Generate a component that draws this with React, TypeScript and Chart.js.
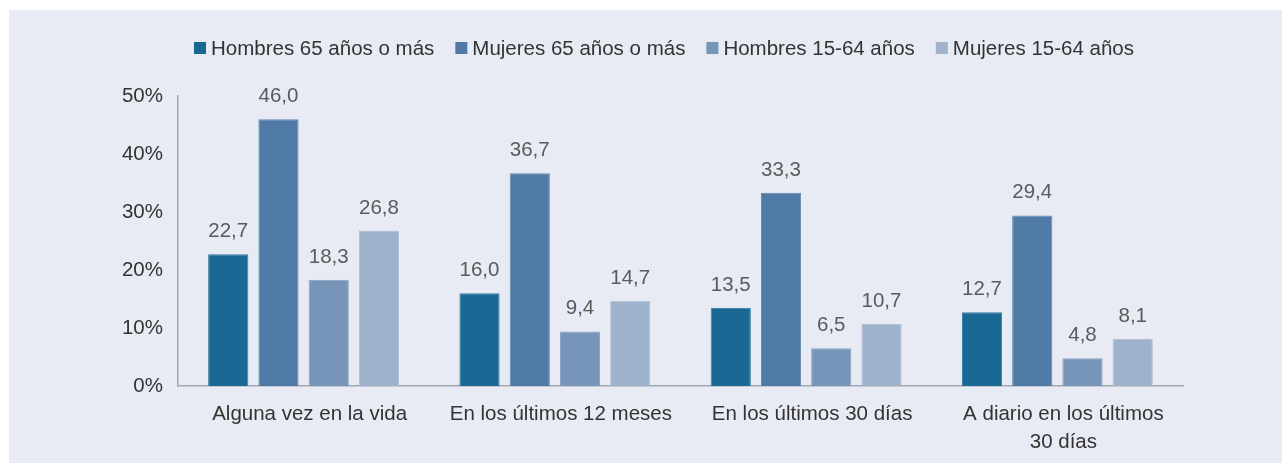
import React, { useEffect, useRef } from "react";
import { Chart, registerables } from "chart.js";

Chart.register(...registerables);

const CATEGORIES: (string | string[])[] = [
  "Alguna vez en la vida",
  "En los últimos 12 meses",
  "En los últimos 30 días",
  ["A diario en los últimos", "30 días"],
];
const SERIES_LABELS = [
  "Hombres 65 años o más",
  "Mujeres 65 años o más",
  "Hombres 15-64 años",
  "Mujeres 15-64 años",
];
const HOMBRES_65 = [22.7, 16.0, 13.5, 12.7];
const MUJERES_65 = [46.0, 36.7, 33.3, 29.4];
const HOMBRES_15_64 = [18.3, 9.4, 6.5, 4.8];
const MUJERES_15_64 = [26.8, 14.7, 10.7, 8.1];
const Y_TICKS = [0, 10, 20, 30, 40, 50];

const COLORS = ["#1A6894", "#4E7AA5", "#7695B8", "#9FB2CC"];
const BORDERS = ["#3479a0", "#6188b0", "#87a2c2", "#afbfd5"];
const FONT = '"Liberation Sans", Arial, sans-serif';
const FS = 20.5;
const BG = "#E8EBF3";

const legendPlugin = {
  id: "topLegend",
  afterDraw(chart: any) {
    const o = chart.options.plugins.topLegend;
    const ctx = chart.ctx;
    ctx.save();
    ctx.font = `${o.fontSize}px ${FONT}`;
    const items = chart.data.datasets.map((ds: any) => ({
      label: ds.label,
      color: ds.backgroundColor,
      w: ctx.measureText(ds.label).width,
    }));
    const total =
      items.reduce((s: number, it: any) => s + o.box + o.gap + it.w, 0) +
      o.spacing * (items.length - 1);
    let x = o.centerX - total / 2;
    ctx.textBaseline = "middle";
    ctx.textAlign = "left";
    for (const it of items) {
      ctx.fillStyle = it.color;
      ctx.fillRect(x, o.y - o.box / 2, o.box, o.box);
      x += o.box + o.gap;
      ctx.fillStyle = o.color;
      ctx.fillText(it.label, x, o.y + 1);
      x += it.w + o.spacing;
    }
    ctx.restore();
  },
};

const valueLabelPlugin = {
  id: "valueLabels",
  afterDatasetsDraw(chart: any) {
    const o = chart.options.plugins.valueLabels;
    const ctx = chart.ctx;
    ctx.save();
    ctx.font = `${o.fontSize}px ${FONT}`;
    ctx.fillStyle = o.color;
    ctx.textAlign = "center";
    ctx.textBaseline = "alphabetic";
    chart.data.datasets.forEach((ds: any, i: number) => {
      const meta = chart.getDatasetMeta(i);
      meta.data.forEach((bar: any, j: number) => {
        const v = ds.data[j];
        ctx.fillText(v.toFixed(1).replace(".", ","), bar.x, bar.y - o.offset);
      });
    });
    ctx.restore();
  },
};

export default function App() {
  const canvasRef = useRef<HTMLCanvasElement | null>(null);

  useEffect(() => {
    if (!canvasRef.current) return;
    const seriesData = [HOMBRES_65, MUJERES_65, HOMBRES_15_64, MUJERES_15_64];
    const chart = new Chart(canvasRef.current, {
      type: "bar",
      data: {
        labels: CATEGORIES,
        datasets: seriesData.map((d, i) => ({
          label: SERIES_LABELS[i],
          data: d,
          backgroundColor: COLORS[i],
          borderColor: BORDERS[i],
          borderWidth: 1,
          categoryPercentage: 0.8,
          barPercentage: 0.8,
        })),
      },
      options: {
        animation: false,
        responsive: true,
        maintainAspectRatio: false,
        layout: { padding: { top: 86, right: 99, bottom: 0, left: 0 } },
        plugins: {
          legend: { display: false },
          tooltip: { enabled: false },
          topLegend: { fontSize: FS, box: 12, gap: 5, spacing: 21, centerX: 655, y: 38, color: "#333333" },
          valueLabels: { fontSize: FS, offset: 17, color: "#5a5a5a" },
        } as any,
        scales: {
          x: {
            grid: { display: false, drawTicks: false },
            border: { display: true, color: "#A3A7AE", width: 1.5 },
            ticks: {
              color: "#333333",
              font: { family: FONT, size: FS, lineHeight: 1.38 },
              padding: 14,
              labelOffset: 6,
              maxRotation: 0,
              autoSkip: false,
            },
            afterFit: (s: any) => {
              s.height = 77;
            },
          },
          y: {
            min: 0,
            max: 50,
            grid: { display: false, drawTicks: false },
            border: { display: true, color: "#A3A7AE", width: 1.5 },
            afterBuildTicks: (s: any) => {
              s.ticks = Y_TICKS.map((v) => ({ value: v }));
            },
            ticks: {
              color: "#333333",
              font: { family: FONT, size: FS },
              padding: 15,
              callback: (v: any) => `${v}%`,
            },
            afterFit: (s: any) => {
              s.width = 169;
            },
          },
        },
      },
      plugins: [legendPlugin, valueLabelPlugin],
    });
    return () => chart.destroy();
  }, []);

  return (
    <div
      style={{
        position: "absolute",
        left: 9,
        top: 10,
        width: 1273,
        height: 453,
        background: BG,
      }}
    >
      <canvas ref={canvasRef} />
    </div>
  );
}
